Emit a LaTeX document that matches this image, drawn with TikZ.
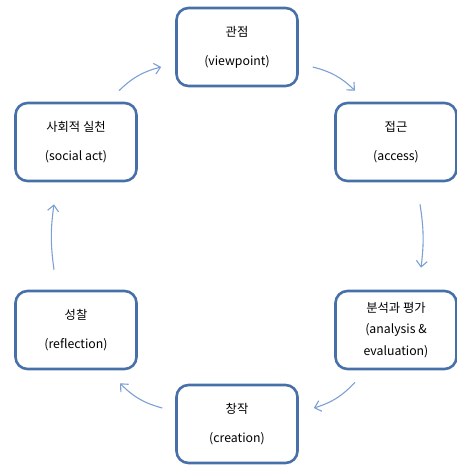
\documentclass[tikz,border=0pt]{standalone}
\usepackage{fontspec}
\setmainfont{Noto Sans CJK KR}
\usetikzlibrary{arrows.meta,positioning}
\definecolor{stageblue}{RGB}{72,112,168}
\definecolor{cycblue}{RGB}{124,160,212}
\tikzset{
  stage/.style={rounded corners=12pt, draw=stageblue, fill=white, line width=2.6pt,
                align=center, minimum width=121pt, minimum height=78pt, inner sep=2pt,
                font=\fontsize{12.3}{16}\selectfont, text=black},
  cyc/.style={-{Straight Barb[length=6pt,width=11pt]}, line width=1.1pt, draw=cycblue},
}
\begin{document}
\begin{tikzpicture}[x=1pt, y=1pt,
    side/.style={cyc, bend left=15},
    drop/.style={cyc, bend left=8}]
    \useasboundingbox (0,0) rectangle (457,-466);
    \node[stage] (view) at (237,-47) {관점\\[13pt](viewpoint)};
    \node[stage] (access) at (396,-142) {접근\\[13pt](access)};
    \node[stage, font=\fontsize{12.3}{21.5}\selectfont] (eval) at (396,-330)
        {분석과 평가\\(analysis \&\\evaluation)};
    \node[stage] (create) at (237,-424) {창작\\[13pt](creation)};
    \node[stage] (reflect) at (76,-330) {성찰\\[13pt](reflection)};
    \node[stage] (social) at (76,-142) {사회적 실천\\[13pt](social act)};
    % clockwise cycle
    \draw[side] ([xshift=14pt,yshift=-20pt]view.east) to ([xshift=-41pt,yshift=11pt]access.north);
    \draw[drop] ([xshift=24pt,yshift=-22pt]access.south) to ([xshift=25pt,yshift=22pt]eval.north);
    \draw[side] ([xshift=-41pt,yshift=-12pt]eval.south) to ([xshift=15pt,yshift=16pt]create.east);
    \draw[side] ([xshift=-13pt,yshift=16pt]create.west) to ([xshift=44pt,yshift=-13pt]reflect.south);
    \draw[drop] ([xshift=-22pt,yshift=20pt]reflect.north) to ([xshift=-22pt,yshift=-22pt]social.south);
    \draw[side] ([xshift=43pt,yshift=11pt]social.north) to ([xshift=-14pt,yshift=-20pt]view.west);
  \end{tikzpicture}
\end{document}
